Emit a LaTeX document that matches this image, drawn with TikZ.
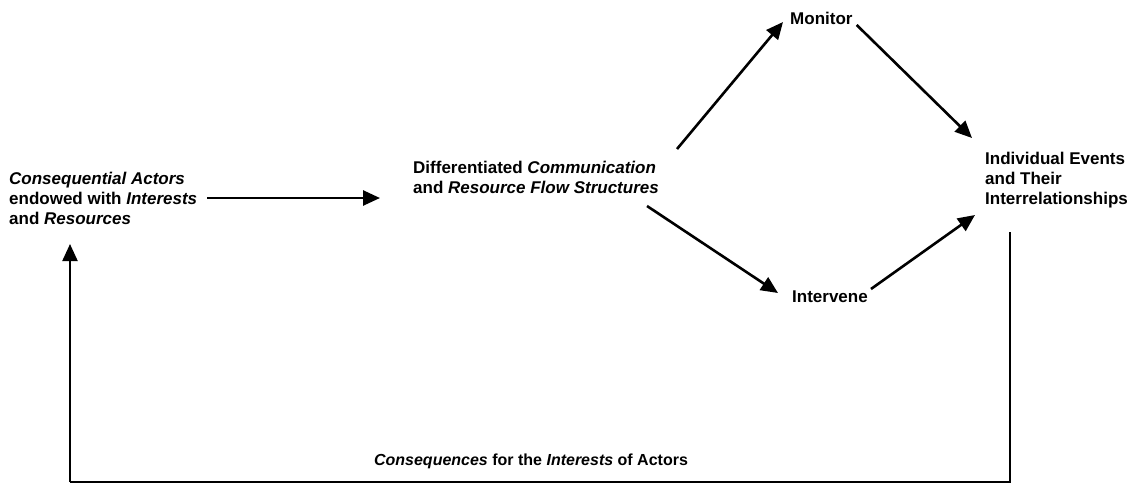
\documentclass[tikz,border=0pt]{standalone}
\usepackage{fontspec}
\setmainfont{Liberation Sans}
\usetikzlibrary{arrows.meta}
\tikzset{
  lbl/.style={font=\fontsize{17}{20}\selectfont\bfseries, inner sep=0pt, align=left},
  arr/.style={line width=2.6pt, -{Triangle[length=17pt,width=15pt]}},
  fb/.style={line width=2.2pt}
}
\begin{document}
\begin{tikzpicture}[x=1pt,y=-1pt]
\useasboundingbox[fill=white] (0,0) rectangle (1136,485);
\node[lbl, anchor=west] (act) at (9,198) {\textit{Consequential Actors}\\endowed with \textit{Interests}\\and \textit{Resources}};
\node[lbl, anchor=west] (mid) at (413,177) {Differentiated \textit{Communication}\\and \textit{Resource Flow Structures}};
\node[lbl, anchor=west] (mon) at (790,18) {Monitor};
\node[lbl, anchor=west] (int) at (792,297) {Intervene};
\node[lbl, anchor=west] (ev) at (985,180) {Individual Events\\and Their\\Interrelationships};
\node[font=\fontsize{16}{18}\selectfont\bfseries, inner sep=0pt] (cons) at (531,461) {\textit{Consequences} for the \textit{Interests} of Actors};
\coordinate (c1) at (1010,482);
\coordinate (c2) at (70,482);
\coordinate (c3) at (70,244);
\draw[arr] ([xshift=10pt]act.east) -- ([xshift=-33pt]mid.west |- act.east);
\draw[arr] ([xshift=18pt,yshift=28pt]mid.east) -- ([xshift=-7pt,yshift=-4pt]mon.west);
\draw[arr] ([xshift=-12pt,yshift=-29pt]mid.east) -- ([xshift=-14pt,yshift=4pt]int.west);
\draw[arr] ([xshift=4pt,yshift=-7pt]mon.east) -- ([xshift=-13pt,yshift=42pt]ev.west);
\draw[arr] ([xshift=3pt,yshift=8pt]int.east) -- ([xshift=-10pt,yshift=-35pt]ev.west);
\draw[fb] ([xshift=25pt,yshift=-52pt]ev.west) -- (c1) -- (c2);
\draw[arr, line width=2.2pt] (c2) -- (c3);
\end{tikzpicture}
\end{document}
